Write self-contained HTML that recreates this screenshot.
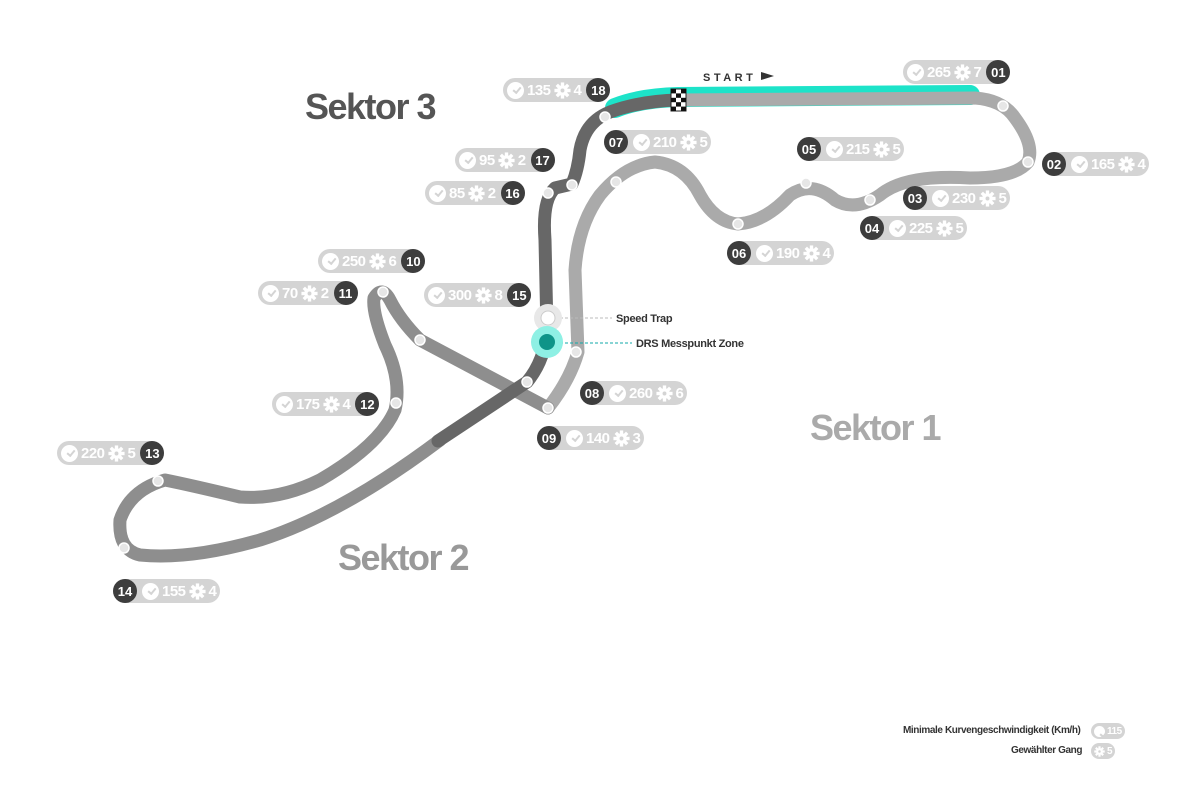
<!DOCTYPE html>
<html><head><meta charset="utf-8"><style>
html,body{margin:0;padding:0;background:#fff;}
body{width:1200px;height:800px;position:relative;overflow:hidden;font-family:"Liberation Sans","DejaVu Sans",sans-serif;}
.p{position:absolute;height:24px;background:#d4d4d4;border-radius:12px;display:flex;align-items:center;color:#fff;font-weight:bold;font-size:15px;white-space:nowrap;padding:0 4px;gap:3px;box-sizing:border-box;letter-spacing:-0.5px;}
.n{width:24px;height:24px;border-radius:12px;background:#3d3d3d;color:#fff;font-size:13px;display:flex;align-items:center;justify-content:center;margin:0 -4px;letter-spacing:0;}
.c{width:17px;height:17px;border-radius:9px;background:#fff;position:relative;}
.c:after{content:"";position:absolute;left:6px;top:5px;width:6px;height:3px;border-left:2px solid #d4d4d4;border-bottom:2px solid #d4d4d4;transform:rotate(-50deg);}
.g{width:17px;height:17px;}
.s{position:absolute;font-weight:bold;font-size:36px;letter-spacing:-1.5px;}
.lg{position:absolute;font-size:10px;font-weight:bold;color:#333;letter-spacing:-0.4px;}
</style></head><body>
<svg width="0" height="0" style="position:absolute">
<symbol id="gear" viewBox="-10 -10 20 20">
<g fill="#fff">
<circle r="6.2"/>
<rect x="-2" y="-9.5" width="4" height="5"/>
<rect x="-2" y="-9.5" width="4" height="5" transform="rotate(45)"/>
<rect x="-2" y="-9.5" width="4" height="5" transform="rotate(90)"/>
<rect x="-2" y="-9.5" width="4" height="5" transform="rotate(135)"/>
<rect x="-2" y="-9.5" width="4" height="5" transform="rotate(180)"/>
<rect x="-2" y="-9.5" width="4" height="5" transform="rotate(225)"/>
<rect x="-2" y="-9.5" width="4" height="5" transform="rotate(270)"/>
<rect x="-2" y="-9.5" width="4" height="5" transform="rotate(315)"/>
</g>
<circle r="2.3" fill="#d4d4d4"/>
</symbol>
</svg>
<svg width="1200" height="800" style="position:absolute;left:0;top:0">
<path d="M615,108 Q640,98 678,97 L970,95" stroke="#1de3c9" stroke-width="20" fill="none" stroke-linecap="round"/>
<path d="M678,100 L975,98 Q1003,100 1015,118 Q1035,145 1028,162 Q1015,178 970,178 Q905,174 880,195 Q855,212 835,200 Q812,180 790,195 Q765,222 738,224 Q715,222 700,195 Q685,165 655,162 Q625,165 600,195 Q578,225 575,270 L578,352 Q570,380 548,408" stroke="#aaaaaa" stroke-width="13" fill="none" stroke-linecap="round" stroke-linejoin="round"/>
<path d="M548,408 L420,340 Q400,320 390,300 Q382,285 374,298 Q372,312 385,345 Q402,380 395,410 Q380,445 320,480 Q280,500 240,497 Q190,485 165,480 Q130,490 120,520 Q118,550 140,555 Q190,560 260,540 Q340,515 440,440" stroke="#8e8e8e" stroke-width="13" fill="none" stroke-linecap="round" stroke-linejoin="round"/>
<path d="M438,441 L527,382 Q545,360 547,330 L545,240 Q542,200 555,188 L572,184 Q578,170 580,150 Q585,122 610,112 Q640,101 678,100" stroke="#676767" stroke-width="13" fill="none" stroke-linecap="round" stroke-linejoin="round"/>
<g transform="translate(671,89)">
<rect width="15" height="22" fill="#fff" stroke="#222" stroke-width="1"/>
<rect x="0" y="0" width="5" height="4.4" fill="#111"/><rect x="10" y="0" width="5" height="4.4" fill="#111"/>
<rect x="5" y="4.4" width="5" height="4.4" fill="#111"/>
<rect x="0" y="8.8" width="5" height="4.4" fill="#111"/><rect x="10" y="8.8" width="5" height="4.4" fill="#111"/>
<rect x="5" y="13.2" width="5" height="4.4" fill="#111"/>
<rect x="0" y="17.6" width="5" height="4.4" fill="#111"/><rect x="10" y="17.6" width="5" height="4.4" fill="#111"/>
</g>
<text x="703" y="81" font-family="Liberation Sans" font-weight="bold" font-size="11" letter-spacing="3.5" fill="#333">START</text>
<path d="M761,72 L774,76 L761,80 Z" fill="#333"/>
<g fill="#e6e6e6" stroke="#fff" stroke-width="1.5">
<circle cx="1003" cy="106" r="5"/><circle cx="1028" cy="162" r="5"/><circle cx="870" cy="200" r="5"/>
<circle cx="806" cy="183" r="5"/><circle cx="738" cy="224" r="5"/><circle cx="616" cy="182" r="5"/>
<circle cx="576" cy="352" r="5"/><circle cx="548" cy="408" r="5"/><circle cx="420" cy="340" r="5"/>
<circle cx="383" cy="292" r="5"/><circle cx="396" cy="403" r="5"/><circle cx="158" cy="481" r="5"/>
<circle cx="124" cy="548" r="5"/><circle cx="527" cy="382" r="5"/><circle cx="548" cy="193" r="5"/>
<circle cx="572" cy="185" r="5"/><circle cx="605" cy="117" r="5"/>
</g>
<line x1="555" y1="318" x2="612" y2="318" stroke="#bbb" stroke-dasharray="3,2"/>
<line x1="555" y1="343" x2="632" y2="343" stroke="#1aa" stroke-dasharray="3,2"/>
<circle cx="548" cy="318" r="14" fill="#e8e8e8"/><circle cx="548" cy="318" r="7" fill="#fff" stroke="#ccc"/>
<circle cx="547" cy="342" r="16" fill="#8ef0e4"/><circle cx="547" cy="342" r="8" fill="#0e9488"/>
<text x="616" y="322" font-family="Liberation Sans" font-weight="bold" font-size="11" fill="#333" letter-spacing="-0.3">Speed Trap</text>
<text x="636" y="347" font-family="Liberation Sans" font-weight="bold" font-size="11" fill="#333" letter-spacing="-0.3">DRS Messpunkt Zone</text>
</svg>

<div class="s" style="left:305px;top:86px;color:#555">Sektor 3</div>
<div class="s" style="left:810px;top:407px;color:#aaa">Sektor 1</div>
<div class="s" style="left:338px;top:537px;color:#999">Sektor 2</div>

<div class="p" style="left:503px;top:78px"><span class="c"></span>135 <svg class="g"><use href="#gear"/></svg>4<span class="n" style="margin-left:2px">18</span></div>
<div class="p" style="left:455px;top:148px"><span class="c"></span>95 <svg class="g"><use href="#gear"/></svg>2<span class="n" style="margin-left:2px">17</span></div>
<div class="p" style="left:425px;top:181px"><span class="c"></span>85 <svg class="g"><use href="#gear"/></svg>2<span class="n" style="margin-left:2px">16</span></div>
<div class="p" style="left:318px;top:249px"><span class="c"></span>250 <svg class="g"><use href="#gear"/></svg>6<span class="n" style="margin-left:2px">10</span></div>
<div class="p" style="left:258px;top:281px"><span class="c"></span>70 <svg class="g"><use href="#gear"/></svg>2<span class="n" style="margin-left:2px">11</span></div>
<div class="p" style="left:424px;top:283px"><span class="c"></span>300 <svg class="g"><use href="#gear"/></svg>8<span class="n" style="margin-left:2px">15</span></div>
<div class="p" style="left:272px;top:392px"><span class="c"></span>175 <svg class="g"><use href="#gear"/></svg>4<span class="n" style="margin-left:2px">12</span></div>
<div class="p" style="left:57px;top:441px"><span class="c"></span>220 <svg class="g"><use href="#gear"/></svg>5<span class="n" style="margin-left:2px">13</span></div>
<div class="p" style="left:903px;top:60px"><span class="c"></span>265 <svg class="g"><use href="#gear"/></svg>7<span class="n" style="margin-left:2px">01</span></div>

<div class="p" style="left:113px;top:579px"><span class="n" style="margin-right:2px">14</span><span class="c"></span>155 <svg class="g"><use href="#gear"/></svg>4</div>
<div class="p" style="left:604px;top:130px"><span class="n" style="margin-right:2px">07</span><span class="c"></span>210 <svg class="g"><use href="#gear"/></svg>5</div>
<div class="p" style="left:797px;top:137px"><span class="n" style="margin-right:2px">05</span><span class="c"></span>215 <svg class="g"><use href="#gear"/></svg>5</div>
<div class="p" style="left:1042px;top:152px"><span class="n" style="margin-right:2px">02</span><span class="c"></span>165 <svg class="g"><use href="#gear"/></svg>4</div>
<div class="p" style="left:903px;top:186px"><span class="n" style="margin-right:2px">03</span><span class="c"></span>230 <svg class="g"><use href="#gear"/></svg>5</div>
<div class="p" style="left:860px;top:216px"><span class="n" style="margin-right:2px">04</span><span class="c"></span>225 <svg class="g"><use href="#gear"/></svg>5</div>
<div class="p" style="left:727px;top:241px"><span class="n" style="margin-right:2px">06</span><span class="c"></span>190 <svg class="g"><use href="#gear"/></svg>4</div>
<div class="p" style="left:580px;top:381px"><span class="n" style="margin-right:2px">08</span><span class="c"></span>260 <svg class="g"><use href="#gear"/></svg>6</div>
<div class="p" style="left:537px;top:426px"><span class="n" style="margin-right:2px">09</span><span class="c"></span>140 <svg class="g"><use href="#gear"/></svg>3</div>

<div class="lg" style="left:903px;top:725px">Minimale Kurvengeschwindigkeit (Km/h)</div>
<div class="p" style="left:1091px;top:723px;height:16px;font-size:10px;padding:0 3px;gap:2px"><span class="c" style="width:11px;height:11px"></span>115</div>
<div class="lg" style="left:1011px;top:745px">Gewählter Gang</div>
<div class="p" style="left:1091px;top:743px;height:16px;font-size:10px;padding:0 3px;gap:2px"><svg style="width:11px;height:11px"><use href="#gear"/></svg>5</div>
</body></html>
